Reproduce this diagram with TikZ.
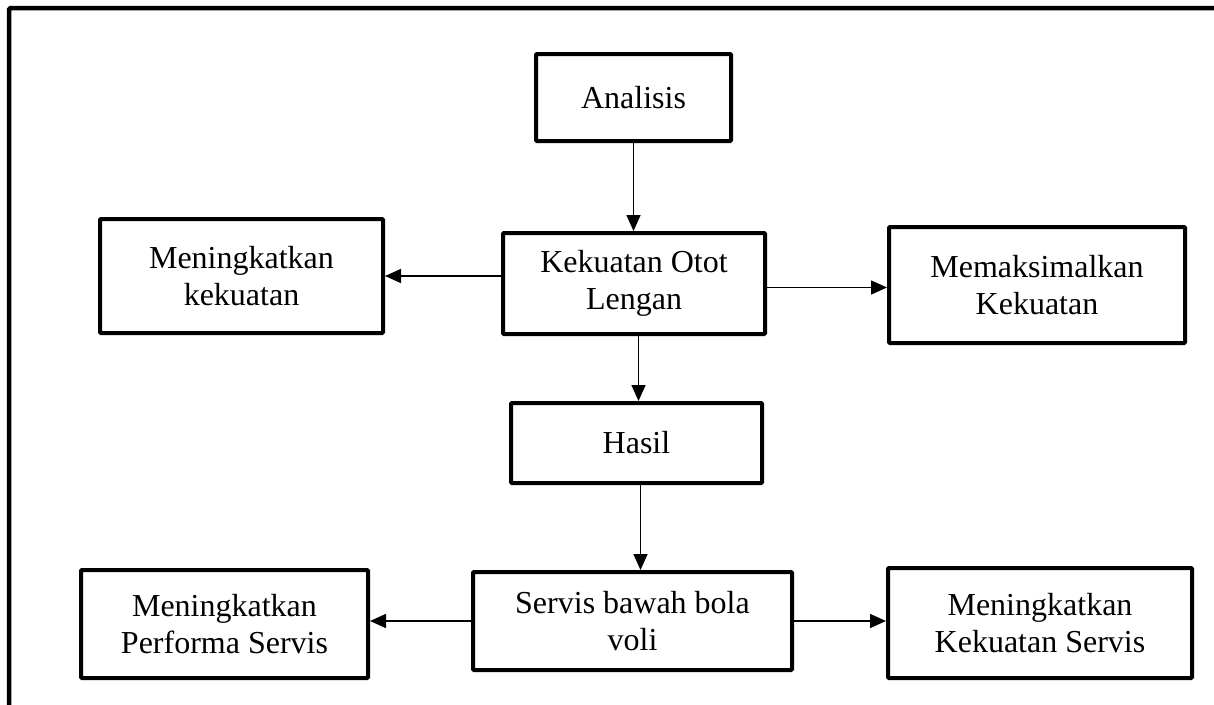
\documentclass[tikz,border=0pt]{standalone}
\usepackage{fontspec}
\setmainfont{Liberation Serif}
\usepackage{tikz}
\usetikzlibrary{arrows.meta}
\usetikzlibrary{positioning}

\tikzset{
  blok/.style={draw, line width=4pt, rounded corners=1pt, align=center,
    font=\fontsize{32}{37}\selectfont, inner sep=0pt},
  panah/.style={line width=1.6pt, -{Triangle[length=16pt,width=14pt]}}
}

\begin{document}
\begin{tikzpicture}[x=1pt, y=-1pt]
\useasboundingbox (0,0) rectangle (1214,704);
% bingkai luar
\draw[line width=4.5pt, rounded corners=1.5pt] (9,8) rectangle (1240,730);
% kotak
\node[blok, minimum width=195pt, minimum height=87pt] (ana) at (633.5,97.5) {Analisis};
\node[blok, minimum width=262pt, minimum height=101pt] (kol) at (634,283.5) {Kekuatan Otot\\Lengan};
\node[blok, minimum width=283pt, minimum height=114pt] (mk) at (241.5,276) {Meningkatkan\\kekuatan};
\node[blok, minimum width=296pt, minimum height=116pt] (mm) at (1037,285) {Memaksimalkan\\Kekuatan};
\node[blok, minimum width=251pt, minimum height=80pt] (has) at (636.5,443) {Hasil};
\node[blok, minimum width=319pt, minimum height=98pt] (sbv) at (632.5,621) {Servis bawah bola\\voli};
\node[blok, minimum width=287pt, minimum height=108pt] (mps) at (224.5,624) {Meningkatkan\\Performa Servis};
\node[blok, minimum width=304pt, minimum height=110pt] (mks) at (1040,623) {Meningkatkan\\Kekuatan Servis};
% panah
\draw[panah] (ana.south) -- (ana.south |- kol.north);
\draw[panah] (kol.west |- mk.east) -- (mk.east);
\draw[panah] ([yshift=-4pt]kol.east) -- ([yshift=-4pt]kol.east -| mm.west);
\draw[panah] ([xshift=2pt]has.north |- kol.south) -- ([xshift=2pt]has.north);
\draw[panah] ([xshift=4pt]has.south) -- ([xshift=4pt]has.south |- sbv.north);
\draw[panah] (sbv.west) -- (sbv.west -| mps.east);
\draw[panah] (sbv.east) -- (sbv.east -| mks.west);
\end{tikzpicture}
\end{document}
